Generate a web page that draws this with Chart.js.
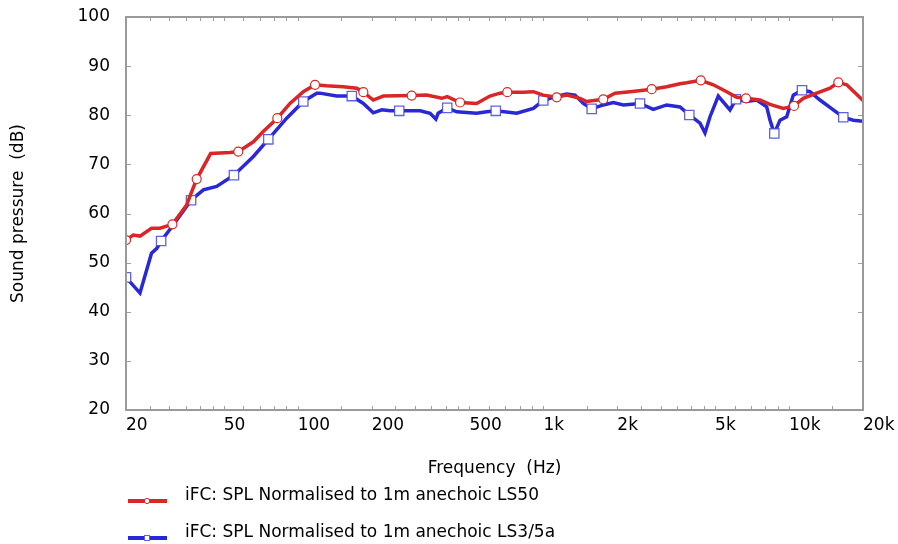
<!DOCTYPE html>
<html>
<head>
<meta charset="utf-8">
<script src="https://cdn.jsdelivr.net/npm/chart.js@4/dist/chart.umd.min.js"></script>
<style>
  html, body { margin: 0; padding: 0; background: #fff; }
  #wrap { width: 898px; height: 544px; }
</style>
</head>
<body>
<div id="wrap"><canvas id="splChart" width="898" height="544"></canvas></div>
<script>
// LS50 curve (Hz, dB) and the frequencies that carry a circle marker
const ls50Freq = [20, 21.4, 22.8, 25.4, 27.5, 30.9, 35.3, 36.8, 38.8, 44.2, 53, 57.3, 66, 72.4, 82.6, 93, 105.4, 117.6,
    131, 153, 174, 185, 203, 223, 291, 335, 386, 406, 458, 535, 606, 666, 713, 828, 910, 999, 1133, 1244, 1409, 1501,
    1753, 1957, 2252, 2552, 2760, 3176, 3598, 3831, 4370, 4918, 5574, 6121, 6681, 7617, 8366, 9478, 10474, 11429,
    12957, 14682, 15868, 17168, 20000];
const ls50Spl = [54.6, 55.6, 55.4, 57.0, 57.0, 57.8, 61.7, 64.1, 67.0, 72.2, 72.4, 72.6, 74.6, 76.7, 79.4, 82.4, 84.8, 86.2,
    86.0, 85.8, 85.5, 84.7, 83.1, 83.9, 84.0, 84.1, 83.45, 83.8, 82.6, 82.4, 83.9, 84.5, 84.7, 84.7, 84.8, 84.1, 83.65, 84.1, 83.45, 82.8,
    83.25, 84.5, 84.8, 85.1, 85.3, 85.8, 86.4, 86.6, 87.1, 86.2, 84.8, 83.65, 83.45, 83.1, 82.2, 81.4, 81.9, 83.45,
    84.5, 85.5, 86.7, 86.2, 83.0];
const ls50Marks = [20, 30.9, 38.8, 57.3, 82.6, 117.6, 185, 291, 458, 713, 1133, 1753, 2760, 4370, 6681, 10474, 15868];

// LS3/5a curve (Hz, dB) and the frequencies that carry a square marker
const ls35aFreq = [20, 22.8, 25.4, 26.7, 27.8, 31.2, 36.8, 41.3, 46.8, 55, 66, 75.9, 90.2, 105.4, 119.5, 123, 144, 166,
    185, 203, 220, 238, 259, 315, 346, 365, 373, 406, 444, 535, 588, 640, 779, 910, 999, 1133, 1244, 1345, 1454, 1573,
    1753, 1926, 2116, 2474, 2802, 3176, 3598, 3926, 4341, 4549, 4768, 5151, 5749, 6082, 6724, 7384, 8110, 8366, 8710,
    9188, 9783, 10406, 11290, 12168, 13366, 15141, 16628, 18258, 20000];
const ls35aSpl = [47.0, 43.8, 51.9, 52.9, 54.4, 57.7, 62.7, 64.8, 65.5, 67.8, 71.6, 75.1, 79.4, 82.8, 84.5, 84.5, 83.9, 83.9,
    82.4, 80.5, 81.1, 80.9, 80.9, 80.9, 80.4, 79.2, 80.4, 81.5, 80.7, 80.4, 80.7, 80.9, 80.4, 81.4, 83.0, 83.9, 84.3, 84.1, 82.4, 81.3,
    82.1, 82.6, 82.1, 82.4, 81.2, 82.1, 81.7, 80.05, 78.4, 76.4, 79.7, 83.9, 81.1, 83.25, 82.8, 83.1, 81.7, 79.0, 76.3,
    79.0, 79.7, 84.1, 85.1, 84.8, 83.1, 81.1, 79.6, 79.0, 78.8];
const ls35aMarks = [20, 27.8, 36.8, 55, 75.9, 105.4, 166, 259, 406, 640, 999, 1573, 2474, 3926, 6082, 8710, 11290, 16628];

// x axis: labelled ticks and the unlabelled tick marks in between
const xLabelValues = [20, 50, 100, 200, 500, 1000, 2000, 5000, 10000, 20000];
const xLabelTexts = ['20', '50', '100', '200', '500', '1k', '2k', '5k', '10k', '20k'];
const xTickSteps = [1, 1.5, 2, 2.5, 3, 3.5, 4, 4.5, 5, 6, 7, 8, 9];
const xDecades = [10, 100, 1000, 10000];

const seriesLabels = ['iFC: SPL Normalised to 1m anechoic LS50', 'iFC: SPL Normalised to 1m anechoic LS3/5a'];

const FONT = 'DejaVu Sans';
const RED = 'rgb(218, 38, 38)';
const BLUE = 'rgb(40, 40, 214)';

const xTickValues = [];
xDecades.forEach(d => xTickSteps.forEach(s => {
    const v = Math.round(d * s);
    if (v >= 20 && v <= 20000) xTickValues.push(v);
}));

function toPoints(freq, spl) {
    return freq.map((f, i) => ({ x: f, y: spl[i] }));
}

// frame and inward tick marks on all four sides
const framePlugin = {
    id: 'frame',
    afterDraw(chart) {
        const { ctx, chartArea: a, scales } = chart;
        ctx.save();
        ctx.strokeStyle = '#a0a0a0';
        ctx.lineWidth = 1;
        ctx.beginPath();
        scales.x.ticks.forEach(t => {
            const px = Math.round(scales.x.getPixelForValue(t.value)) + 0.5;
            ctx.moveTo(px, a.top); ctx.lineTo(px, a.top + 4);
            ctx.moveTo(px, a.bottom); ctx.lineTo(px, a.bottom - 4);
        });
        scales.y.ticks.forEach(t => {
            const py = Math.round(scales.y.getPixelForValue(t.value)) + 0.5;
            ctx.moveTo(a.left, py); ctx.lineTo(a.left + 5, py);
            ctx.moveTo(a.right, py); ctx.lineTo(a.right - 5, py);
        });
        ctx.stroke();
        ctx.lineWidth = 2;
        ctx.strokeStyle = '#9a9a9a';
        ctx.strokeRect(a.left, a.top, a.right - a.left, a.bottom - a.top);
        ctx.restore();
    }
};

// legend drawn under the x axis title, one row per series
const legendPlugin = {
    id: 'bottomLegend',
    afterDraw(chart) {
        const { ctx, chartArea: a } = chart;
        ctx.save();
        chart.data.datasets.forEach((ds, i) => {
            const y = a.bottom + 86 + i * 37;
            const x0 = a.left + 2;
            ctx.strokeStyle = ds.borderColor;
            ctx.lineWidth = 4;
            ctx.beginPath();
            ctx.moveTo(x0, y + 5);
            ctx.lineTo(x0 + 39, y + 5);
            ctx.stroke();
            ctx.fillStyle = '#fff';
            ctx.lineWidth = 1;
            ctx.strokeStyle = ds.pointBorderColor;
            if (ds.pointStyle === 'circle') {
                ctx.beginPath();
                ctx.arc(x0 + 19, y + 5, 2.6, 0, Math.PI * 2);
                ctx.fill(); ctx.stroke();
            } else {
                ctx.fillRect(x0 + 16, y + 2, 6, 6);
                ctx.strokeRect(x0 + 16.5, y + 2.5, 5, 5);
            }
            ctx.fillStyle = '#000';
            ctx.font = '17px "' + FONT + '"';
            ctx.textBaseline = 'middle';
            ctx.textAlign = 'left';
            ctx.fillText(ds.label, a.left + 59, y);
        });
        ctx.restore();
    }
};

const canvas = document.getElementById('splChart');
if (canvas) {
    const marker = (marks, r) => c => (c.raw && marks.includes(c.raw.x) ? r : 0);

    new Chart(canvas.getContext('2d'), {
        type: 'line',
        data: {
            datasets: [{
                label: seriesLabels[0],
                data: toPoints(ls50Freq, ls50Spl),
                borderColor: RED,
                borderWidth: 3.5,
                tension: 0,
                pointStyle: 'circle',
                pointRadius: marker(ls50Marks, 4.5),
                pointBackgroundColor: '#fff',
                pointBorderColor: RED,
                pointBorderWidth: 1.2
            }, {
                label: seriesLabels[1],
                data: toPoints(ls35aFreq, ls35aSpl),
                borderColor: BLUE,
                borderWidth: 3.5,
                tension: 0,
                pointStyle: 'rect',
                pointRadius: marker(ls35aMarks, 6.6),
                pointBackgroundColor: '#fff',
                pointBorderColor: 'rgba(70, 70, 220, 0.85)',
                pointBorderWidth: 1.3
            }]
        },
        options: {
            responsive: false,
            animation: false,
            devicePixelRatio: 1,
            layout: { padding: { top: 17, right: 35, bottom: 64, left: 0 } },
            plugins: {
                legend: { display: false },
                tooltip: { enabled: false }
            },
            scales: {
                x: {
                    type: 'logarithmic',
                    min: 20,
                    max: 20000,
                    afterBuildTicks: axis => { axis.ticks = xTickValues.map(v => ({ value: v })); },
                    afterFit: axis => {
                        axis.height = 70;
                        axis.paddingLeft = 0;
                        axis.paddingRight = 0;
                    },
                    grid: { display: false, drawTicks: false },
                    border: { display: false },
                    ticks: {
                        autoSkip: false,
                        maxRotation: 0,
                        align: 'start',
                        padding: 5,
                        color: '#000',
                        font: { family: FONT, size: 17 },
                        callback: v => {
                            const k = xLabelValues.indexOf(Math.round(v));
                            return k >= 0 ? xLabelTexts[k] : '';
                        }
                    },
                    title: {
                        display: true,
                        text: 'Frequency  (Hz)',
                        color: '#000',
                        font: { family: FONT, size: 17 },
                        padding: { top: 0, bottom: 1 }
                    }
                },
                y: {
                    min: 20,
                    max: 100,
                    afterFit: axis => {
                        axis.width = 126;
                        axis.paddingTop = 0;
                        axis.paddingBottom = 0;
                    },
                    grid: { display: false, drawTicks: false },
                    border: { display: false },
                    ticks: {
                        stepSize: 10,
                        padding: 16,
                        color: '#000',
                        font: { family: FONT, size: 17 }
                    },
                    title: {
                        display: true,
                        text: 'Sound pressure  (dB)',
                        color: '#000',
                        font: { family: FONT, size: 17 },
                        padding: { top: 8, bottom: 0 }
                    }
                }
            }
        },
        plugins: [framePlugin, legendPlugin]
    });
} else {
    console.error('Canvas for SPL chart not found.');
}
</script>
</body>
</html>
